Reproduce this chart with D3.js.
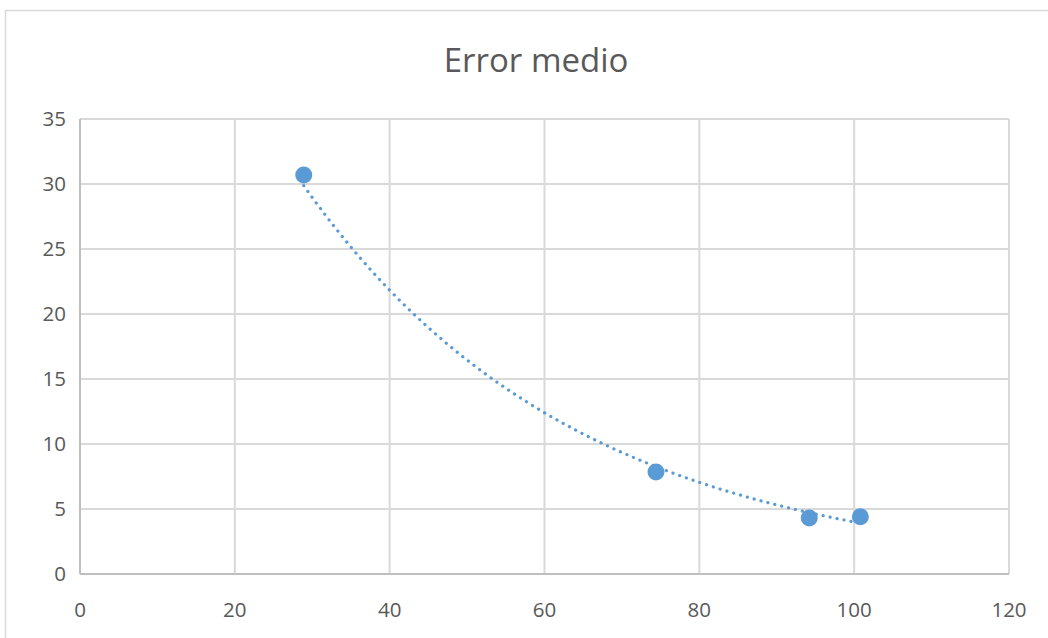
<!DOCTYPE html>
<html>
<head>
<meta charset="utf-8">
<script src="https://cdn.jsdelivr.net/npm/d3@7"></script>
<style>
  body { margin: 0; background: #fff; }
  text { font-family: "Open Sans", "Noto Sans", sans-serif; fill: #595959; }
</style>
</head>
<body>
<svg width="1048" height="638"></svg>
<script>
// datos
var xValues = [28.9, 74.4, 94.2, 100.8];
var yValues = [30.7, 7.85, 4.3, 4.4];
var xTicks = [0, 20, 40, 60, 80, 100, 120];
var yTicks = [0, 5, 10, 15, 20, 25, 30, 35];
var title = "Error medio";

var svg = d3.select("svg");
var margin = {top: 119, right: 39, bottom: 64, left: 80};
var width = 1048 - margin.left - margin.right;
var height = 638 - margin.top - margin.bottom;

// marco del grafico
svg.append("rect")
  .attr("x", 5.5).attr("y", 10.5)
  .attr("width", 1100).attr("height", 700)
  .attr("fill", "none").attr("stroke", "#d9d9d9").attr("stroke-width", 1.5);

svg.append("text")
  .attr("x", 536).attr("y", 72)
  .attr("text-anchor", "middle")
  .attr("font-size", 33)
  .text(title);

var g = svg.append("g").attr("transform", "translate(" + margin.left + "," + margin.top + ")");

var x = d3.scaleLinear().domain([0, 120]).range([0, width]);
var y = d3.scaleLinear().domain([0, 35]).range([height, 0]);

// rejilla
g.append("g").selectAll("line.h")
  .data(yTicks.filter(function (d) { return d > 0; }))
  .enter().append("line")
  .attr("x1", 0).attr("x2", width)
  .attr("y1", function (d) { return y(d); })
  .attr("y2", function (d) { return y(d); })
  .attr("stroke", "#d9d9d9").attr("stroke-width", 2);

g.append("g").selectAll("line.v")
  .data(xTicks.filter(function (d) { return d > 0; }))
  .enter().append("line")
  .attr("y1", 0).attr("y2", height)
  .attr("x1", function (d) { return x(d); })
  .attr("x2", function (d) { return x(d); })
  .attr("stroke", "#d9d9d9").attr("stroke-width", 2);

// ejes
g.append("line").attr("x1", 0).attr("x2", width).attr("y1", height).attr("y2", height)
  .attr("stroke", "#bfbfbf").attr("stroke-width", 2);
g.append("line").attr("x1", 0).attr("x2", 0).attr("y1", 0).attr("y2", height)
  .attr("stroke", "#bfbfbf").attr("stroke-width", 2);

g.append("g").selectAll("text")
  .data(yTicks).enter().append("text")
  .attr("x", -14).attr("y", function (d) { return y(d); })
  .attr("dy", "0.35em")
  .attr("text-anchor", "end")
  .attr("font-size", 20.5)
  .text(function (d) { return d; });

g.append("g").selectAll("text")
  .data(xTicks).enter().append("text")
  .attr("x", function (d) { return x(d); })
  .attr("y", height + 43)
  .attr("text-anchor", "middle")
  .attr("font-size", 20.5)
  .text(function (d) { return d; });

// linea de tendencia exponencial (minimos cuadrados sobre ln y)
var n = xValues.length;
var mx = d3.mean(xValues);
var ly = yValues.map(function (v) { return Math.log(v); });
var ml = d3.mean(ly);
var sxy = 0, sxx = 0;
for (var i = 0; i < n; i++) {
  sxy += (xValues[i] - mx) * (ly[i] - ml);
  sxx += (xValues[i] - mx) * (xValues[i] - mx);
}
var b = sxy / sxx;
var a = Math.exp(ml - b * mx);
var trendX = d3.range(d3.min(xValues), d3.max(xValues), 0.5).concat([d3.max(xValues)]);

g.append("path")
  .datum(trendX)
  .attr("fill", "none")
  .attr("stroke", "#5b9bd5")
  .attr("stroke-width", 3.2)
  .attr("stroke-linecap", "round")
  .attr("stroke-dasharray", "0.1 7")
  .attr("d", d3.line()
    .x(function (d) { return x(d); })
    .y(function (d) { return y(a * Math.exp(b * d)); }));

g.append("g").selectAll("circle")
  .data(xValues).enter().append("circle")
  .attr("cx", function (d) { return x(d); })
  .attr("cy", function (d, i) { return y(yValues[i]); })
  .attr("r", 8.5)
  .attr("fill", "#5b9bd5");
</script>
</body>
</html>
